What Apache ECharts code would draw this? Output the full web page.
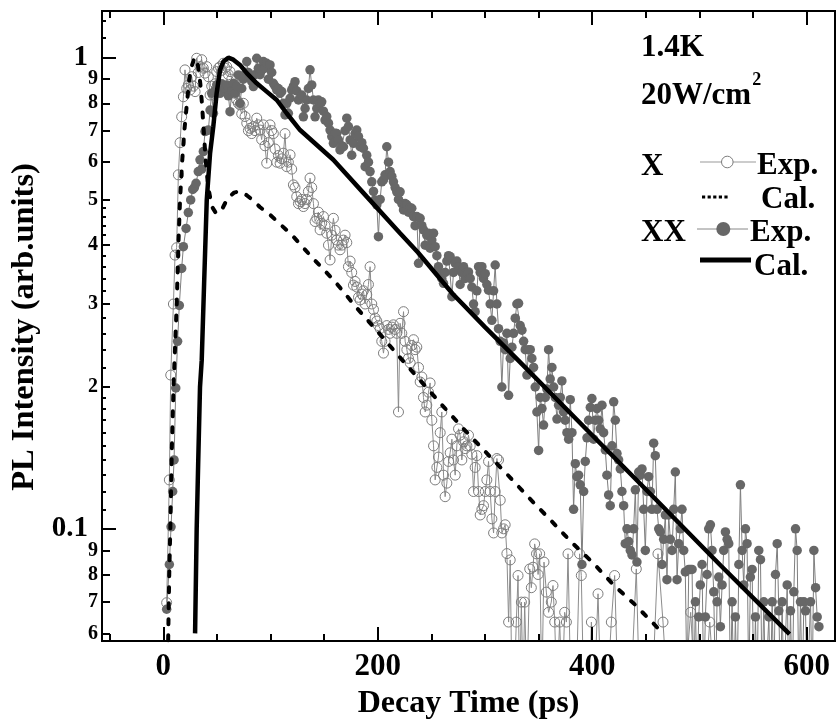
<!DOCTYPE html>
<html>
<head>
<meta charset="utf-8">
<script src="https://cdn.jsdelivr.net/npm/echarts@6/dist/echarts.min.js"></script>
<style>
html,body{margin:0;padding:0;background:#fff;}
#wrap{position:relative;width:836px;height:724px;}
.layer{position:absolute;left:0;top:0;width:836px;height:724px;}
</style>
</head>
<body>
<div id="wrap">
  <div id="cSeries" class="layer"></div>
  <div id="cSub" class="layer"></div>
  <div id="cMinor" class="layer"></div>
  <div id="cMajor" class="layer"></div>
</div>
<script>
// ---- axis ranges / ticks ----
const xRange = [-57.2, 626.4];
const yRange = [0.0578, 1.256];
const xMajorTicks = [0, 200, 400, 600];
const xMinorTicks = [-50, 50, 100, 150, 250, 300, 350, 450, 500, 550];
const yMajorTicks = [0.1, 1];
const yMinorTicks = [0.06, 0.07, 0.08, 0.09, 0.2, 0.3, 0.4, 0.5, 0.6, 0.7, 0.8, 0.9];
const ySubTicks = [0.11, 0.12, 0.13, 0.14, 0.15, 0.16, 0.17, 0.18, 0.19,
  0.22, 0.24, 0.26, 0.28, 0.32, 0.34, 0.36, 0.38, 0.42, 0.44, 0.46, 0.48, 1.1, 1.2];

// ---- X exciton, experiment (open circles) [time ps, intensity] ----
const xExp = [[3.1,0.0697],[5.6,0.127],[6.9,0.212],[9.4,0.30],[10.9,0.381],[12.4,0.395],[14,0.564],[15.6,0.66],[17.1,0.749],[18.7,0.826],[20.2,0.942],[21.8,0.86],[23.3,0.875],[24.9,0.854],[26.5,0.911],[28,0.87],[29.6,0.847],[31.1,0.997],[32.6,0.93],[34.2,0.957],[35.8,0.99],[37.3,0.95],[38.9,0.927],[40.5,0.957],[42,0.911],[43.6,0.833],[45.1,0.87],[46.7,0.833],[48.3,0.88],[49.8,0.934],[51.4,0.95],[52.9,0.957],[54.5,0.94],[56,0.973],[57.6,0.95],[59.1,0.957],[60.7,0.92],[62.2,0.934],[63.8,0.9],[65.3,0.875],[66.9,0.84],[68.4,0.813],[70,0.80],[71.5,0.794],[73.1,0.76],[74.6,0.80],[76.2,0.75],[77.8,0.726],[79.3,0.70],[80.8,0.708],[82.4,0.69],[84,0.714],[85.5,0.70],[87.1,0.744],[88.6,0.72],[90.2,0.702],[91.7,0.67],[93.3,0.72],[94.8,0.65],[96.4,0.597],[98,0.66],[99.5,0.72],[101.1,0.70],[102.6,0.69],[104.2,0.64],[105.8,0.60],[107.3,0.62],[108.9,0.597],[110.4,0.61],[112,0.627],[113.5,0.69],[115.1,0.587],[116.6,0.60],[118.2,0.622],[119.7,0.58],[121.3,0.537],[122.8,0.53],[124.4,0.507],[126,0.49],[127.5,0.495],[129.1,0.50],[130.6,0.483],[132.2,0.49],[133.7,0.50],[135.3,0.52],[136.8,0.555],[138.4,0.53],[140,0.49],[141.5,0.449],[143.1,0.456],[144.6,0.47],[146.2,0.431],[147.7,0.445],[149.3,0.46],[150.8,0.44],[152.4,0.424],[154,0.40],[155.5,0.372],[157.1,0.42],[158.6,0.456],[160.2,0.43],[161.7,0.41],[163.3,0.40],[164.8,0.391],[166.4,0.40],[168,0.41],[169.5,0.42],[171.1,0.405],[172.6,0.36],[174.2,0.37],[175.7,0.35],[177.3,0.329],[178.8,0.335],[180.4,0.326],[182,0.31],[183.5,0.306],[185.1,0.315],[186.6,0.32],[188.2,0.30],[189.7,0.314],[191.3,0.33],[192.8,0.36],[194.4,0.30],[196,0.292],[197.5,0.28],[199.1,0.276],[200.6,0.27],[202.2,0.266],[203.7,0.25],[205.3,0.236],[206.8,0.25],[208.4,0.27],[210,0.265],[211.5,0.26],[213.1,0.268],[214.6,0.271],[216.2,0.265],[217.7,0.26],[219.3,0.177],[220.8,0.273],[222.4,0.26],[224,0.289],[225.5,0.25],[227.1,0.24],[228.6,0.23],[230.2,0.225],[231.7,0.245],[233.3,0.252],[234.8,0.24],[236.4,0.243],[238,0.22],[239.5,0.205],[241.1,0.21],[242.6,0.19],[244.2,0.177],[245.7,0.183],[247.3,0.195],[248.8,0.204],[250.4,0.17],[252,0.15],[253.5,0.127],[255.1,0.135],[256.6,0.142],[258.2,0.16],[259.7,0.177],[261.3,0.13],[262.8,0.117],[264.4,0.125],[266,0.139],[267.5,0.145],[269.1,0.155],[270.6,0.14],[272.2,0.13],[273.7,0.15],[275.3,0.163],[276.8,0.158],[278.4,0.14],[280,0.153],[281.5,0.148],[283.1,0.15],[284.6,0.158],[286.2,0.15],[287.7,0.144],[289.3,0.12],[290.8,0.135],[292.4,0.143],[294,0.12],[295.5,0.107],[297.1,0.11],[298.6,0.112],[300.2,0.12],[301.7,0.127],[303.3,0.139],[304.8,0.12],[306.4,0.105],[308,0.098],[309.5,0.12],[311.1,0.141],[312.6,0.14],[314.2,0.115],[315.7,0.098],[317.3,0.10],[318.8,0.102],[320.4,0.0886],[322,0.0634],[323.5,0.0859],[325.1,0.045],[327,0.045],[329.2,0.0634],[330.8,0.0796],[332.3,0.045],[333.9,0.0699],[335.5,0.045],[337,0.0699],[339,0.045],[341.7,0.0822],[343.2,0.075],[344.8,0.0829],[346.3,0.0929],[348,0.0885],[349.5,0.08],[351,0.0885],[353,0.045],[355,0.085],[357.2,0.0734],[359.3,0.0665],[361.8,0.0699],[363.4,0.0758],[365,0.0634],[367,0.045],[369.6,0.0634],[372,0.045],[374.3,0.0665],[375.9,0.0634],[377.4,0.0885],[380,0.045],[382.5,0.045],[385,0.045],[388.2,0.0885],[389.8,0.0796],[392,0.045],[395,0.045],[397.5,0.045],[399.2,0.0634],[402,0.045],[405.4,0.0728],[408,0.045],[411,0.045],[414,0.045],[417.8,0.0634],[420.9,0.0796],[424,0.045],[428,0.045],[432,0.045],[436,0.045],[441.1,0.0822],[444,0.045],[448,0.045],[452,0.045],[456,0.045],[461.3,0.0885],[466,0.0634],[470,0.045],[475,0.045],[480,0.045],[486,0.045],[491.8,0.0665],[496,0.045],[500,0.045],[505,0.045],[509.6,0.0634],[514,0.045],[520,0.045]];

// ---- XX biexciton, experiment (filled circles) [time ps, intensity] ----
const xxExp = [[3.1,0.0675],[5.6,0.084],[7.2,0.101],[8.7,0.12],[10,0.14],[11.6,0.199],[13.3,0.25],[14.9,0.298],[17.1,0.357],[18.7,0.397],[21.2,0.434],[23.3,0.469],[25.5,0.499],[27.4,0.525],[29,0.53],[30.5,0.541],[32.6,0.573],[34.2,0.607],[35.8,0.58],[37.3,0.632],[38.9,0.697],[40.5,0.70],[42,0.702],[43.6,0.774],[45.1,0.84],[46.7,0.762],[48.3,0.85],[49.8,0.875],[51.4,0.86],[52.9,0.84],[54.5,0.88],[56,0.85],[57.6,0.86],[59.1,0.875],[60.7,0.83],[62.2,0.768],[63.8,0.85],[65.3,0.882],[66.9,0.84],[68.4,0.87],[70,0.919],[71.5,0.80],[73.1,0.86],[74.6,0.90],[76.2,0.919],[77.8,0.981],[79.3,0.93],[80.8,0.911],[82.4,0.89],[84,0.868],[85.5,0.92],[87.1,0.997],[88.6,0.949],[90.2,0.92],[91.7,0.94],[93.3,0.981],[94.8,0.95],[96.4,0.973],[98,0.90],[99.5,0.965],[101.1,0.93],[102.6,0.882],[104.2,0.87],[105.8,0.854],[107.3,0.86],[108.9,0.84],[110.4,0.847],[112,0.80],[113.5,0.756],[115.1,0.80],[116.6,0.762],[118.2,0.82],[119.7,0.854],[121.3,0.87],[122.8,0.889],[124.4,0.85],[126,0.813],[127.5,0.82],[129.1,0.833],[130.6,0.749],[132.2,0.78],[133.7,0.813],[135.3,0.86],[136.8,0.942],[138.4,0.875],[140,0.813],[141.5,0.749],[143.1,0.78],[144.6,0.813],[146.2,0.80],[147.7,0.806],[149.3,0.77],[150.8,0.737],[152.4,0.75],[154,0.726],[155.5,0.702],[157.1,0.68],[158.6,0.658],[160.2,0.691],[161.7,0.69],[163.3,0.669],[164.8,0.637],[166.4,0.65],[168,0.647],[169.5,0.70],[171.1,0.744],[172.6,0.714],[174.2,0.669],[175.7,0.621],[177.3,0.658],[178.8,0.69],[180.4,0.702],[182,0.68],[183.5,0.647],[185.1,0.66],[186.6,0.642],[188.2,0.587],[189.7,0.621],[191.3,0.60],[192.8,0.573],[194.4,0.545],[196,0.52],[197.5,0.499],[199.1,0.487],[200.6,0.417],[202.2,0.50],[203.7,0.545],[205.3,0.55],[206.8,0.564],[208.4,0.647],[210,0.60],[211.5,0.573],[213.1,0.56],[214.6,0.545],[216.2,0.53],[217.7,0.519],[219.3,0.50],[220.8,0.519],[222.4,0.49],[224,0.475],[225.5,0.49],[227.1,0.487],[228.6,0.47],[230.2,0.48],[231.7,0.479],[233.3,0.46],[234.8,0.44],[236.4,0.46],[238,0.366],[239.5,0.456],[241.1,0.44],[242.6,0.431],[244.2,0.40],[245.7,0.42],[247.3,0.424],[248.8,0.394],[250.4,0.41],[252,0.424],[253.5,0.397],[255.1,0.38],[256.6,0.36],[258.2,0.348],[259.7,0.34],[261.3,0.332],[262.8,0.35],[264.4,0.37],[266,0.38],[267.5,0.378],[269.1,0.311],[270.6,0.35],[272.2,0.366],[273.7,0.37],[275.3,0.36],[276.8,0.33],[278.4,0.35],[280,0.36],[281.5,0.34],[283.1,0.35],[284.6,0.351],[286.2,0.34],[287.7,0.326],[289.3,0.30],[290.8,0.289],[292.4,0.32],[294,0.36],[295.5,0.35],[297.1,0.36],[298.6,0.34],[300.2,0.348],[301.7,0.33],[303.3,0.321],[304.8,0.30],[306.4,0.277],[308,0.32],[309.5,0.363],[311.1,0.30],[312.6,0.266],[314.2,0.25],[315.7,0.20],[317.3,0.248],[318.8,0.24],[320.4,0.26],[322,0.192],[323.5,0.23],[325.1,0.243],[326.6,0.26],[328.2,0.28],[329.7,0.30],[331.3,0.301],[332.8,0.27],[334.4,0.264],[336,0.25],[337.5,0.24],[339.1,0.212],[340.6,0.24],[342.2,0.24],[343.7,0.23],[345.3,0.22],[346.8,0.20],[348.4,0.177],[350,0.1467],[351.5,0.19],[353.1,0.18],[354.6,0.166],[356.2,0.19],[357.7,0.198],[359.3,0.24],[360.8,0.208],[362.4,0.22],[364,0.20],[365.5,0.19],[367.1,0.171],[368.6,0.183],[370.2,0.19],[371.7,0.206],[373.3,0.177],[374.8,0.17],[376.4,0.16],[378,0.155],[379.5,0.188],[381.1,0.16],[382.6,0.11],[384.2,0.1375],[385.7,0.129],[387.3,0.13],[388.8,0.124],[390.4,0.084],[392,0.12],[393.5,0.139],[395.1,0.156],[396.6,0.17],[398.2,0.181],[399.7,0.189],[401.3,0.155],[402.8,0.17],[404.4,0.18],[406,0.17],[407.5,0.163],[409.1,0.183],[410.6,0.16],[412.2,0.147],[413.7,0.13],[415.3,0.118],[416.8,0.112],[418.4,0.15],[420,0.186],[421.5,0.17],[423.1,0.1445],[424.6,0.14],[426.2,0.134],[427.7,0.12],[429.3,0.112],[430.8,0.093],[432.4,0.10],[434,0.094],[435.5,0.09],[437.1,0.088],[438.6,0.10],[440.2,0.121],[441.7,0.085],[443.3,0.132],[444.8,0.13],[446.4,0.134],[448,0.11],[449.5,0.09],[451.1,0.12],[452.6,0.129],[454.2,0.12],[455.7,0.11],[457.3,0.152],[458.8,0.143],[460.4,0.11],[462,0.10],[463.5,0.0985],[465.1,0.084],[466.6,0.095],[468.2,0.107],[469.7,0.078],[471.3,0.107],[472.8,0.095],[474.4,0.09],[476,0.11],[477.5,0.132],[479.1,0.078],[480.6,0.093],[482.2,0.10],[483.7,0.11],[485.3,0.09],[486.8,0.081],[488.4,0.045],[490,0.082],[491.5,0.082],[493.1,0.082],[494.6,0.045],[496.2,0.07],[497.7,0.045],[499.3,0.065],[500.8,0.076],[502.4,0.084],[504,0.045],[505.5,0.065],[507.1,0.08],[508.6,0.10],[510.2,0.102],[511.7,0.09],[513.3,0.0735],[514.9,0.045],[516.4,0.07],[518,0.079],[519.5,0.062],[521.1,0.076],[522.6,0.09],[524.2,0.0985],[525.8,0.095],[527.3,0.093],[528.9,0.045],[530.4,0.07],[532,0.045],[533.5,0.065],[535.1,0.045],[536.7,0.084],[538.2,0.124],[539.8,0.09],[541.3,0.076],[542.9,0.10],[544.4,0.093],[546,0.045],[547.5,0.079],[549.1,0.082],[550.7,0.045],[552.2,0.065],[553.8,0.045],[555.3,0.09],[556.9,0.086],[558.4,0.045],[560,0.07],[561.6,0.045],[563.1,0.045],[564.7,0.065],[566.2,0.045],[567.8,0.07],[569.3,0.045],[570.9,0.08],[572.5,0.093],[574,0.067],[575.6,0.045],[577.1,0.07],[578.7,0.045],[580.2,0.045],[581.8,0.076],[583.3,0.045],[584.9,0.067],[586.5,0.045],[588,0.0735],[589.6,0.10],[591.1,0.09],[592.7,0.045],[594.2,0.07],[595.8,0.045],[597.4,0.07],[598.9,0.067],[600.5,0.045],[602,0.045],[603.6,0.07],[605.1,0.045],[606.7,0.09],[608.3,0.075],[609.8,0.065],[611.4,0.062]];

// ---- calculated curves [time ps, intensity] ----
const xCal = [[4.5,0.058],[5.5,0.08],[6.5,0.1],[8,0.15],[9.5,0.2],[12.5,0.3],[14,0.4],[15.6,0.5],[17.5,0.6],[19.6,0.7],[22,0.8],[24.2,0.9],[26.5,0.96],[28.5,0.99],[30,1.0],[31.5,0.985],[33,0.94],[34.5,0.88],[36,0.80],[37.5,0.71],[39,0.63],[40.5,0.57],[42,0.53],[44,0.50],[46,0.48],[49,0.468],[52,0.468],[55,0.478],[58,0.493],[62,0.508],[66,0.517],[70,0.52],[74,0.517],[78,0.51],[84,0.497],[90,0.482],[100,0.463],[120,0.42],[140,0.374],[160,0.335],[180,0.295],[200,0.262],[220,0.232],[240,0.206],[260,0.183],[280,0.163],[300,0.146],[320,0.131],[340,0.117],[360,0.105],[380,0.094],[400,0.085],[420,0.076],[440,0.069],[466,0.06]];
const xxCal = [[29.6,0.06],[31.1,0.1],[32.6,0.141],[34.2,0.2],[35.8,0.228],[38,0.33],[40.5,0.499],[43.6,0.627],[46.6,0.714],[49.7,0.84],[52.9,0.942],[56,0.981],[60.6,1.0],[65.3,0.99],[71.5,0.965],[77.8,0.927],[87.1,0.882],[96.4,0.847],[105.8,0.813],[115,0.762],[127.5,0.702],[158.5,0.607],[189.7,0.507],[220.8,0.424],[237.5,0.386],[270,0.315],[300,0.268],[330.8,0.228],[400,0.158],[460,0.115],[520,0.0835],[584,0.0598]];

// ---- texts ----
const xTitle = 'Decay Time (ps)';
const yTitle = 'PL Intensity (arb.units)';
const noteTemp = '1.4K';
const notePower = '20W/cm';
const notePowerSup = '2';
const legendLabels = ['X', 'Exp.', 'Cal.', 'XX', 'Exp.', 'Cal.'];

const FONT = "'Liberation Serif','Times New Roman',serif";
const NOTE_FONT = "bold 31px " + FONT;
const LEG_FONT = "bold 31px " + FONT;
const GRID = { left: 102, right: 1, top: 11, bottom: 83 };
const AXIS_LINE = { show: true, onZero: false, lineStyle: { color: '#000', width: 2 } };

function textWidth(str, font) {
  const c = document.createElement('canvas').getContext('2d');
  c.font = font;
  return c.measureText(str).width;
}

function hiddenX() {
  return { type: 'value', min: xRange[0], max: xRange[1], axisLine: { show: false, onZero: false },
    axisTick: { show: false }, axisLabel: { show: false }, splitLine: { show: false } };
}
function hiddenY() {
  return { type: 'log', logBase: 10, min: yRange[0], max: yRange[1], axisLine: { show: false, onZero: false },
    axisTick: { show: false }, axisLabel: { show: false }, splitLine: { show: false }, minorTick: { show: false } };
}
function tickX(pos, ticks, len, labels) {
  return {
    type: 'value', position: pos, min: xRange[0], max: xRange[1],
    axisLine: AXIS_LINE, splitLine: { show: false },
    axisTick: { show: true, inside: true, length: len, customValues: ticks,
      lineStyle: { color: '#000', width: 2 } },
    axisLabel: labels ? { show: true, customValues: ticks, margin: 10,
      fontFamily: FONT, fontWeight: 'bold', fontSize: 31, color: '#000' } : { show: false }
  };
}
function tickY(pos, ticks, len, labelCfg) {
  return {
    type: 'log', logBase: 10, position: pos, min: yRange[0], max: yRange[1],
    axisLine: AXIS_LINE, splitLine: { show: false }, minorTick: { show: false },
    axisTick: ticks ? { show: true, inside: true, length: len, customValues: ticks,
      lineStyle: { color: '#000', width: 2 } } : { show: false },
    axisLabel: labelCfg ? Object.assign({ show: true, customValues: ticks,
      fontFamily: FONT, fontWeight: 'bold', color: '#000' }, labelCfg) : { show: false }
  };
}

function mk(id) {
  return echarts.init(document.getElementById(id), null, { renderer: 'canvas', width: 836, height: 724 });
}

// ---------- layer 1: data series + texts ----------
const supX = 641 + textWidth(notePower, NOTE_FONT) + 1;
const textGraphics = [
  { type: 'text', x: 468.5, y: 704, style: { text: xTitle, font: "bold 32px " + FONT,
    fill: '#000', textAlign: 'center', textVerticalAlign: 'middle' } },
  { type: 'text', x: 25, y: 327, rotation: Math.PI / 2, style: { text: yTitle, font: "bold 32.5px " + FONT,
    fill: '#000', textAlign: 'center', textVerticalAlign: 'middle' } },
  { type: 'text', x: 641, y: 47.5, style: { text: noteTemp, font: NOTE_FONT,
    fill: '#000', textAlign: 'left', textVerticalAlign: 'middle' } },
  { type: 'text', x: 641, y: 96, style: { text: notePower, font: NOTE_FONT,
    fill: '#000', textAlign: 'left', textVerticalAlign: 'middle' } },
  { type: 'text', x: supX, y: 80, style: { text: notePowerSup, font: "bold 18px " + FONT,
    fill: '#000', textAlign: 'left', textVerticalAlign: 'middle' } },
  { type: 'text', x: 641, y: 167, style: { text: legendLabels[0], font: LEG_FONT,
    fill: '#000', textAlign: 'left', textVerticalAlign: 'middle' } },
  { type: 'line', shape: { x1: 700, y1: 162, x2: 721.5, y2: 162 }, style: { stroke: '#999', lineWidth: 1 } },
  { type: 'line', shape: { x1: 733, y1: 162, x2: 756, y2: 162 }, style: { stroke: '#999', lineWidth: 1 } },
  { type: 'circle', shape: { cx: 727.3, cy: 162, r: 5.8 }, style: { fill: 'none', stroke: '#7c7c7c', lineWidth: 1 } },
  { type: 'text', x: 757, y: 166, style: { text: legendLabels[1], font: LEG_FONT,
    fill: '#000', textAlign: 'left', textVerticalAlign: 'middle' } },
  { type: 'line', shape: { x1: 702, y1: 197, x2: 729, y2: 197 },
    style: { stroke: '#000', lineWidth: 3.2, lineDash: [3.2, 2.4] } },
  { type: 'text', x: 761, y: 200, style: { text: legendLabels[2], font: LEG_FONT,
    fill: '#000', textAlign: 'left', textVerticalAlign: 'middle' } },
  { type: 'text', x: 641, y: 233, style: { text: legendLabels[3], font: LEG_FONT,
    fill: '#000', textAlign: 'left', textVerticalAlign: 'middle' } },
  { type: 'line', shape: { x1: 697, y1: 229, x2: 748, y2: 229 }, style: { stroke: '#888', lineWidth: 1 } },
  { type: 'circle', shape: { cx: 723.3, cy: 229, r: 7 }, style: { fill: '#676767' } },
  { type: 'text', x: 750, y: 233, style: { text: legendLabels[4], font: LEG_FONT,
    fill: '#000', textAlign: 'left', textVerticalAlign: 'middle' } },
  { type: 'line', shape: { x1: 700, y1: 260, x2: 751, y2: 260 }, style: { stroke: '#000', lineWidth: 5 } },
  { type: 'text', x: 754, y: 266.5, style: { text: legendLabels[5], font: LEG_FONT,
    fill: '#000', textAlign: 'left', textVerticalAlign: 'middle' } }
];

try {
  mk('cSeries').setOption({
    animation: false, backgroundColor: 'transparent', grid: GRID,
    xAxis: hiddenX(), yAxis: hiddenY(),
    series: [
      { type: 'line', data: xExp, symbol: 'circle', symbolSize: 10,
        itemStyle: { color: 'rgba(255,255,255,0)', borderColor: '#7c7c7c', borderWidth: 1 },
        lineStyle: { color: '#8c8c8c', width: 1 }, z: 2, clip: true },
      { type: 'line', data: xxExp, symbol: 'circle', symbolSize: 9.5,
        itemStyle: { color: '#676767', borderWidth: 0 },
        lineStyle: { color: '#7e7e7e', width: 1 }, z: 3, clip: true },
      { type: 'line', data: xCal, symbol: 'none',
        lineStyle: { color: '#000', width: 4, type: [5, 11], cap: 'round' }, z: 4, clip: true },
      { type: 'line', data: xxCal, symbol: 'none',
        lineStyle: { color: '#000', width: 4.5 }, z: 4, clip: true }
    ],
    graphic: textGraphics
  });
} catch (e) {}

// ---------- layer 2: sub ticks on the log axis ----------
try {
  mk('cSub').setOption({
    animation: false, backgroundColor: 'transparent', grid: GRID,
    xAxis: hiddenX(),
    yAxis: tickY('left', ySubTicks, 4, null)
  });
} catch (e) {}

// ---------- layer 3: minor ticks + digit labels, frame ----------
try {
  mk('cMinor').setOption({
    animation: false, backgroundColor: 'transparent',
    grid: Object.assign({ show: true, borderColor: '#000', borderWidth: 2, backgroundColor: 'transparent' }, GRID),
    xAxis: hiddenX(),
    yAxis: tickY('left', yMinorTicks, 8, { margin: 4, fontSize: 20,
      formatter: v => String(v < 0.1 ? Math.round(v * 100) : Math.round(v * 10)) })
  });
} catch (e) {}

// ---------- layer 4: time-axis ticks/labels and major intensity ticks ----------
try {
  mk('cMajor').setOption({
    animation: false, backgroundColor: 'transparent', grid: GRID,
    xAxis: [
      tickX('bottom', xMajorTicks, 14, true),
      tickX('bottom', xMinorTicks, 7, false),
      tickX('top', xMajorTicks, 14, false),
      tickX('top', xMinorTicks, 7, false)
    ],
    yAxis: tickY('left', yMajorTicks, 14, { margin: 14, fontSize: 29,
      formatter: v => (v > 0.5 ? '1' : '0.1') })
  });
} catch (e) {}
</script>
</body>
</html>
